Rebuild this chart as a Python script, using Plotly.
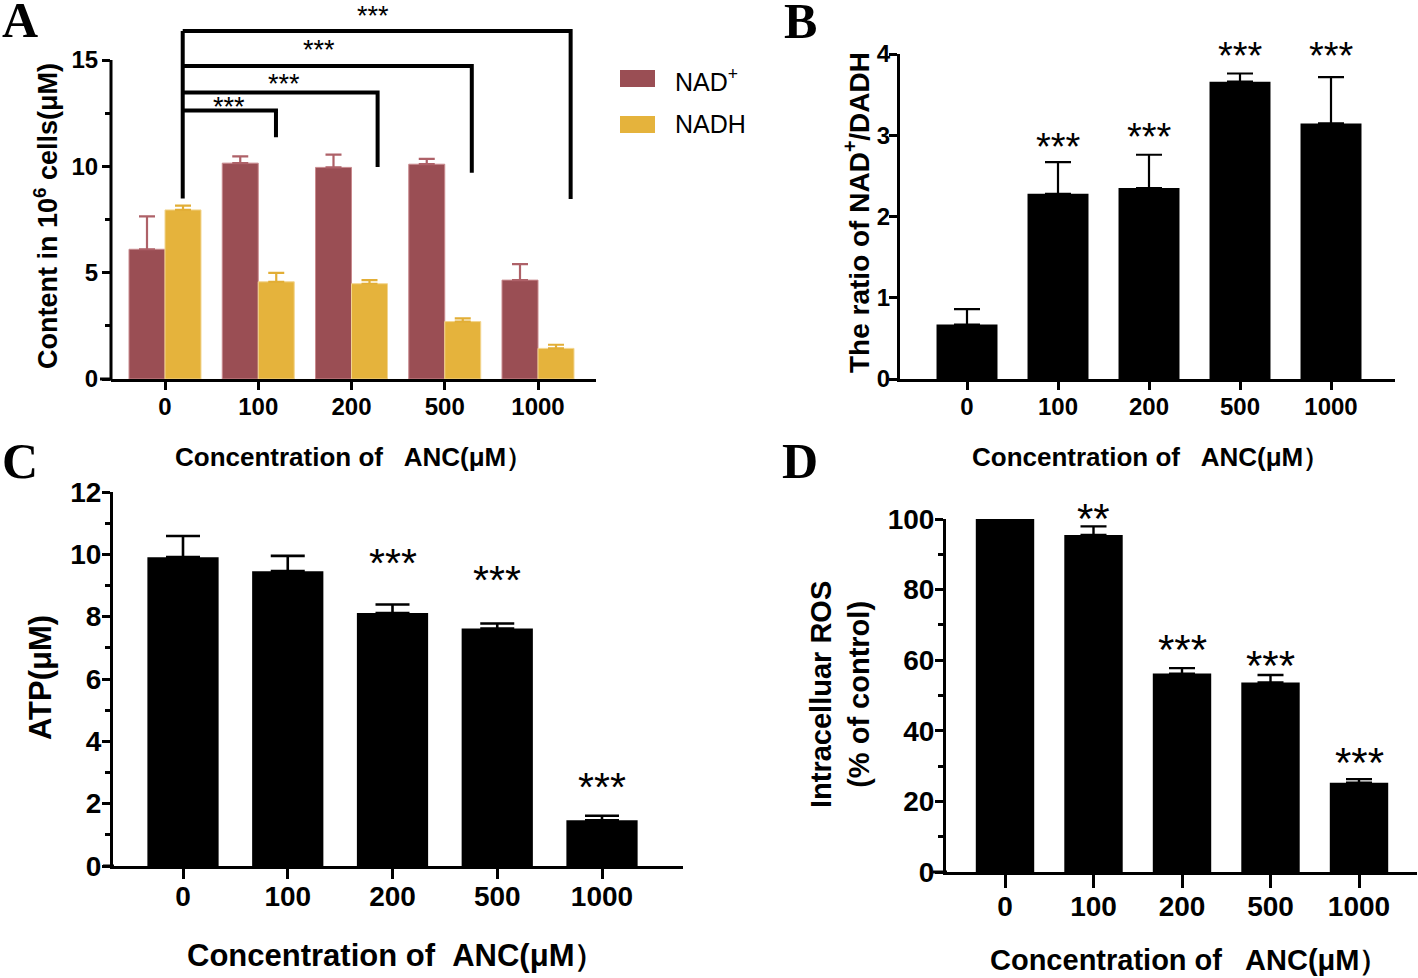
import plotly.graph_objects as go

# ---------------- data ----------------
categories = ["0", "100", "200", "500", "1000"]
cat_pos = [0, 1, 2, 3, 4]

# Panel A
nad_plus = [6.1, 10.15, 9.95, 10.1, 4.65]
nad_plus_err = [1.55, 0.32, 0.6, 0.25, 0.75]
nadh = [7.95, 4.57, 4.48, 2.7, 1.44]
nadh_err = [0.2, 0.42, 0.17, 0.15, 0.17]
# comparison brackets: (right end x, bar level, right leg bottom)
bracket_right = [1.19, 2.28, 3.29, 4.35]
bracket_level = [12.62, 13.47, 14.72, 16.36]
bracket_bottom = [11.37, 9.97, 9.7, 8.46]
bracket_left = 0.19
bracket_left_bottom = 8.49
bracket_label_x = [0.69, 1.28, 1.65, 2.23]
bracket_label_y = [12.98, 14.06, 15.67, 17.24]

# Panel B
ratio = [0.67, 2.28, 2.35, 3.66, 3.145]
ratio_err = [0.19, 0.39, 0.41, 0.10, 0.57]
sig_B = ["", "***", "***", "***", "***"]
sig_B_y = [0, 2.92, 3.05, 4.04, 4.04]

# Panel C
atp = [9.91, 9.46, 8.12, 7.62, 1.47]
atp_err = [0.68, 0.49, 0.27, 0.16, 0.14]
sig_C = ["", "", "***", "***", "***"]
sig_C_y = [0, 0, 9.9, 9.35, 2.72]

# Panel D
ros = [100, 95.5, 56.2, 53.7, 25.3]
ros_err = [0, 2.4, 1.55, 2.1, 1.0]
sig_D = ["", "**", "***", "***", "***"]
sig_D_y = [0, 101.9, 64.6, 60.3, 32.7]

# ---------------- layout helpers ----------------
W, H = 1418, 978
SANS = "Liberation Sans, Arial, sans-serif"
SERIF = "Liberation Serif, Times New Roman, serif"


def xd(a, b):
    return [a / W, b / W]


def yd(top, bottom):
    return [1 - bottom / H, 1 - top / H]


def px(x):
    return x / W


def py(y):
    return 1 - y / H


NAD_COL = "#9A4E54"
NADH_COL = "#E5B33C"

fig = go.Figure()

# Panel A bars
bw = 0.386
fig.add_trace(go.Bar(
    x=cat_pos, y=nad_plus, width=bw, offset=-bw, name="NAD+",
    marker=dict(color=NAD_COL, line=dict(color="#C98A8E", width=1)),
    error_y=dict(type="data", array=nad_plus_err, arrayminus=[0] * 5, symmetric=False,
                 color="#AE6168", thickness=2.2, width=8),
    xaxis="x", yaxis="y", showlegend=False))
fig.add_trace(go.Bar(
    x=cat_pos, y=nadh, width=bw, offset=0, name="NADH",
    marker=dict(color=NADH_COL, line=dict(color="#F2D58F", width=1)),
    error_y=dict(type="data", array=nadh_err, arrayminus=[0] * 5, symmetric=False,
                 color="#E2AE36", thickness=2.2, width=8),
    xaxis="x", yaxis="y", showlegend=False))

# Panel B
fig.add_trace(go.Bar(
    x=cat_pos, y=ratio, width=0.67, marker=dict(color="black", line=dict(width=0)),
    error_y=dict(type="data", array=ratio_err, arrayminus=[0] * 5, symmetric=False,
                 color="black", thickness=2.2, width=13),
    xaxis="x2", yaxis="y2", showlegend=False))

# Panel C
fig.add_trace(go.Bar(
    x=cat_pos, y=atp, width=0.68, marker=dict(color="black", line=dict(width=0)),
    error_y=dict(type="data", array=atp_err, arrayminus=[0] * 5, symmetric=False,
                 color="black", thickness=2.6, width=17),
    xaxis="x3", yaxis="y3", showlegend=False))

# Panel D
fig.add_trace(go.Bar(
    x=cat_pos, y=ros, width=0.66, marker=dict(color="black", line=dict(width=0)),
    error_y=dict(type="data", array=ros_err, arrayminus=[0] * 5, symmetric=False,
                 color="black", thickness=2.4, width=13),
    xaxis="x4", yaxis="y4", showlegend=False))

tick_font_ab = dict(family=SANS, size=24, color="black", weight="bold")
tick_font_cd = dict(family=SANS, size=28, color="black", weight="bold")


def xaxis(domain, rng, anchor, font, ticklen=8, standoff=0):
    return dict(domain=domain, range=rng, anchor=anchor, tickvals=cat_pos, ticktext=categories,
                showline=True, linecolor="black", linewidth=3, ticks="outside", ticklen=ticklen,
                tickwidth=3, tickcolor="black", showgrid=False, zeroline=False, tickfont=font,
                ticklabelstandoff=standoff, fixedrange=True, automargin=False)


def yaxis(domain, rng, anchor, font, tickvals, minor_vals, showline=True, standoff=0):
    return dict(domain=domain, range=rng, anchor=anchor, tickvals=tickvals,
                showline=showline, linecolor="black", linewidth=3, ticks="outside", ticklen=8,
                tickwidth=3, tickcolor="black", showgrid=False, zeroline=False, tickfont=font,
                ticklabelstandoff=standoff, fixedrange=True, automargin=False,
                minor=dict(tickvals=minor_vals, ticks="outside", ticklen=5, tickwidth=2.5,
                           tickcolor="black", showgrid=False))


# pixel frames: (left, right), (top, bottom), (first category center, spacing)
A_x = (111, 596); A_y = (0, 379); A_cx = (165, 93.25)
B_x = (900, 1395); B_y = (54, 379); B_cx = (967, 91.0)
C_x = (113, 683); C_y = (492, 866); C_cx = (183, 104.75)
D_x = (946, 1417); D_y = (519, 872); D_cx = (1005, 88.5)

A_top = 379 / (319 / 15.0)
A_rng = [0, A_top]
B_rng = [0, 4]
C_rng = [0, 12]
D_rng = [0, 100]


def xrange(fx, cx):
    return [(fx[0] - cx[0]) / cx[1], (fx[1] - cx[0]) / cx[1]]


def to_paper(fx, fy, cx, rng, xv, yv):
    """Map data coords of a panel to paper coords (for labels that sit above the axis range)."""
    xpix = cx[0] + xv * cx[1]
    ypix = fy[1] - (yv - rng[0]) / (rng[1] - rng[0]) * (fy[1] - fy[0])
    return px(xpix), py(ypix)


fig.update_layout(
    width=W, height=H, margin=dict(l=0, r=0, t=0, b=0, autoexpand=False),
    paper_bgcolor="white", plot_bgcolor="white", barmode="overlay",
    xaxis=xaxis(xd(*A_x), xrange(A_x, A_cx), "y", tick_font_ab, standoff=-4),
    yaxis=yaxis(yd(*A_y), A_rng, "x", tick_font_ab, [0, 5, 10, 15], [2.5, 7.5, 12.5],
                showline=False, standoff=-1),
    xaxis2=xaxis(xd(*B_x), xrange(B_x, B_cx), "y2", tick_font_ab, standoff=-4),
    yaxis2=yaxis(yd(*B_y), B_rng, "x2", tick_font_ab, [0, 1, 2, 3, 4], [], standoff=-6),
    xaxis3=xaxis(xd(*C_x), xrange(C_x, C_cx), "y3", tick_font_cd, ticklen=10, standoff=-7),
    yaxis3=yaxis(yd(*C_y), C_rng, "x3", tick_font_cd, [0, 2, 4, 6, 8, 10, 12],
                 [1, 3, 5, 7, 9, 11], standoff=-5),
    xaxis4=xaxis(xd(*D_x), xrange(D_x, D_cx), "y4", tick_font_cd, ticklen=13, standoff=-6),
    yaxis4=yaxis(yd(*D_y), D_rng, "x4", tick_font_cd, [0, 20, 40, 60, 80, 100],
                 [10, 30, 50, 70, 90], standoff=-5),
)

shapes = []
# manual y-axis line for panel A (0 to 15)
a_dom = yd(*A_y)
y15 = a_dom[0] + 15 / A_top * (a_dom[1] - a_dom[0])
shapes.append(dict(type="line", xref="paper", yref="paper", x0=px(A_x[0]), x1=px(A_x[0]),
                   y0=a_dom[0] - 1.5 / H, y1=y15, line=dict(color="black", width=3)))
# x-axis small left extensions
for x0, x1, yb in [(100, 112, 379), (103, 114, 866), (933, 947, 872)]:
    shapes.append(dict(type="line", xref="paper", yref="paper", x0=px(x0), x1=px(x1),
                       y0=py(yb), y1=py(yb), line=dict(color="black", width=3)))

# comparison brackets in panel A
shapes.append(dict(type="line", xref="x", yref="y", x0=bracket_left, x1=bracket_left,
                   y0=bracket_left_bottom, y1=max(bracket_level),
                   line=dict(color="black", width=4)))
for xr, lv, bt in zip(bracket_right, bracket_level, bracket_bottom):
    shapes.append(dict(type="path", xref="x", yref="y",
                       path=f"M {bracket_left},{lv} L {xr},{lv} L {xr},{bt}",
                       line=dict(color="black", width=4)))

# legend squares
shapes.append(dict(type="rect", xref="paper", yref="paper", x0=px(620), x1=px(655),
                   y0=py(87), y1=py(70), fillcolor=NAD_COL, line=dict(width=0)))
shapes.append(dict(type="rect", xref="paper", yref="paper", x0=px(620), x1=px(655),
                   y0=py(133), y1=py(116), fillcolor=NADH_COL, line=dict(width=0)))

fig.update_layout(shapes=shapes)

ann = []


def text(x, y, s, size, bold=True, family=SANS, angle=0, xanchor="center", yanchor="middle"):
    ann.append(dict(x=px(x), y=py(y), xref="paper", yref="paper", text=s, showarrow=False,
                    textangle=angle, xanchor=xanchor, yanchor=yanchor,
                    font=dict(family=family, size=size, color="black",
                              weight="bold" if bold else "normal")))


# panel letters
text(20, 20, "A", 50, family=SERIF)
text(800, 21, "B", 50, family=SERIF)
text(20, 461, "C", 50, family=SERIF)
text(800, 461, "D", 50, family=SERIF)

# legend text
text(673, 80, "NAD<sup>+</sup>", 25, bold=False, xanchor="left")
text(673, 124, "NADH", 25, bold=False, xanchor="left")

# axis titles
xt3 = "Concentration of \u00a0 ANC(\u03bcM\uff09"
xt2 = "Concentration of \u00a0ANC(\u03bcM\uff09"
text(353.5, 457, xt3, 26)
text(1150.5, 457, xt3, 26)
text(396.5, 955, xt2, 31)
text(1189, 960, xt3, 29)
text(46, 216, "Content in 10<sup>6</sup> cells(\u03bcM)", 27, angle=-90)
text(857, 212, "The ratio of NAD<sup>+</sup>/DADH", 28, angle=-90)
text(40, 678, "ATP(\u03bcM)", 31, angle=-90)
text(840, 695, "Intracelluar ROS<br>(% of control)", 29, angle=-90)


def star(frame, x, y, s, size):
    xp, yp = to_paper(*frame, x, y)
    ann.append(dict(x=xp, y=yp, xref="paper", yref="paper", text=s, showarrow=False,
                    xanchor="center", yanchor="middle", yshift=-0.14 * size,
                    font=dict(family=SANS, size=size, color="black")))


fA = (A_x, A_y, A_cx, A_rng)
fB = (B_x, B_y, B_cx, B_rng)
fC = (C_x, C_y, C_cx, C_rng)
fD = (D_x, D_y, D_cx, D_rng)

for x, y in zip(bracket_label_x, bracket_label_y):
    star(fA, x, y, "***", 27)
for x, s, y in zip(cat_pos, sig_B, sig_B_y):
    if s:
        star(fB, x, y, s, 38)
for x, s, y in zip(cat_pos, sig_C, sig_C_y):
    if s:
        star(fC, x, y, s, 41)
for x, s, y in zip(cat_pos, sig_D, sig_D_y):
    if s:
        star(fD, x, y, s, 42)

fig.update_layout(annotations=ann)

# remove the default page margin so the figure fills the 1418x978 window exactly
fig.write_html("out.html", config={"displayModeBar": False},
               post_script="document.body.style.margin='0px';")
